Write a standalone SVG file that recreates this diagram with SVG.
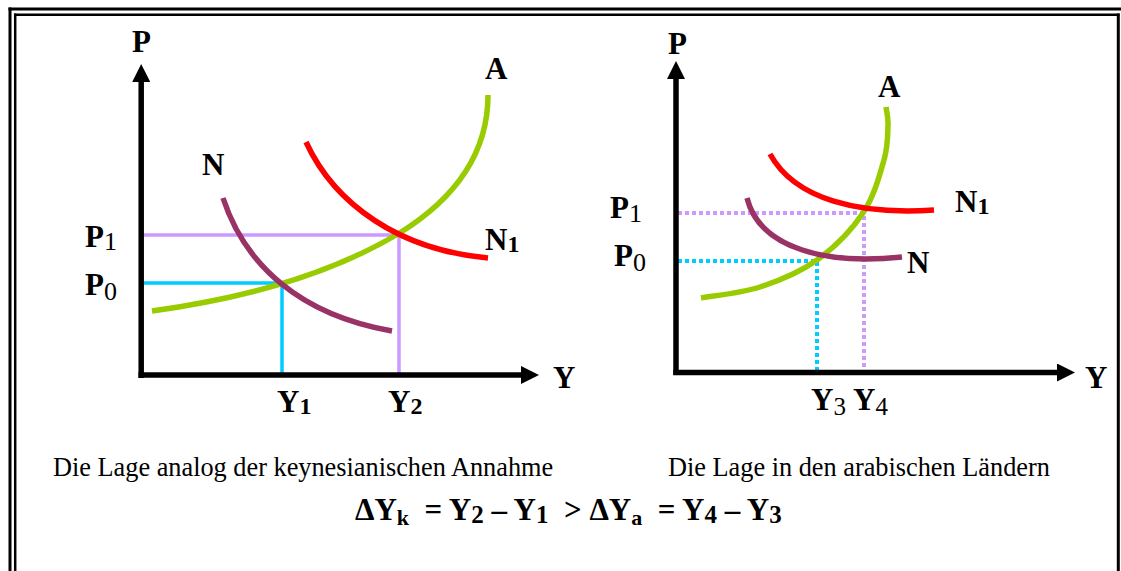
<svg xmlns="http://www.w3.org/2000/svg" width="1121" height="571" viewBox="0 0 1121 571">
<style>
.frame{fill:none;stroke:#000}
.axis{fill:none;stroke:#000;stroke-width:5.5}
.curve{fill:none;stroke-width:5.5}
.green{stroke:#99CC00}
.red{stroke:#FF0000}
.purple{stroke:#993366}
.guide{fill:none;stroke-width:3.5}
.dot{fill:none;stroke-width:4;stroke-dasharray:4 3}
.cyan{stroke:#00CCFF}
.lav{stroke:#CC99FF}
text{font-family:"Liberation Serif","Times New Roman",serif;fill:#000}
.lbl{font-size:31px;font-weight:bold}
.subr{font-size:26px;font-weight:normal}
.subb{font-size:24px;font-weight:bold}
.cap{font-size:26.3px}
.f{font-size:31px;font-weight:bold}
.fs{font-size:22px;font-weight:bold}
.fd{font-size:25px;font-weight:bold}
</style>
<defs>
<marker id="arr" markerUnits="userSpaceOnUse" markerWidth="18" markerHeight="18" viewBox="0 0 18 18" refX="0" refY="9" orient="auto">
<path d="M0,0 L18,9 L0,18 Z" fill="#000"/>
</marker>
</defs>
<g id="frame">
<line class="frame" x1="8.5" y1="9" x2="1121" y2="9" stroke-width="3"/>
<line class="frame" x1="10" y1="7.5" x2="10" y2="571" stroke-width="3"/>
<line class="frame" x1="14" y1="14.8" x2="1119.5" y2="14.8" stroke-width="2.5"/>
<line class="frame" x1="15.2" y1="13.5" x2="15.2" y2="571" stroke-width="2.5"/>
<line class="frame" x1="1118.3" y1="13.5" x2="1118.3" y2="571" stroke-width="3"/>
</g>
<g id="left-chart">
<g id="left-guides">
<polyline class="guide lav" points="141,235 399,235 399,375"/>
<polyline class="guide cyan" points="141,283 282,283 282,375"/>
</g>
<g id="left-curves">
<path id="left-A" class="curve green" d="M152,311 C230,300 320,280 398,234 C460,196 488,150 488,95"/>
<path id="left-N" class="curve purple" d="M223,198 C245,265 300,315 392,331"/>
<path id="left-N1" class="curve red" d="M306,142 C335,205 400,250 488,258"/>
</g>
<g id="left-axes">
<line class="axis" x1="141.2" y1="378" x2="141.2" y2="82" marker-end="url(#arr)"/>
<line class="axis" x1="138.5" y1="375" x2="521" y2="375" marker-end="url(#arr)"/>
</g>
<g id="left-labels">
<text class="lbl" x="132" y="52">P</text>
<text class="lbl" x="553" y="388">Y</text>
<text class="lbl" x="485" y="79">A</text>
<text class="lbl" x="202" y="175">N</text>
<text class="lbl" x="485" y="250">N<tspan class="subb" dy="2">1</tspan></text>
<text class="lbl" x="85" y="247">P<tspan class="subr" dy="3">1</tspan></text>
<text class="lbl" x="85" y="295">P<tspan class="subr" dy="5">0</tspan></text>
<text class="lbl" x="277" y="412">Y<tspan class="subb" dy="2">1</tspan></text>
<text class="lbl" x="388" y="412">Y<tspan class="subb" dy="2">2</tspan></text>
</g>
</g>
<g id="right-chart">
<g id="right-guides">
<polyline class="dot lav" points="678,213 864,213 864,372"/>
<polyline class="dot cyan" points="678,261 817,261 817,372"/>
</g>
<g id="right-curves">
<path id="right-A" class="curve green" d="M701,298 C710.8,296.2 740.7,293.3 760,287 C779.3,280.7 799.8,272.3 817,260 C834.2,247.7 851.8,229.7 863,213 C874.2,196.3 879.8,174.7 884,160 C888.2,145.3 887.7,133.8 888,125 C888.3,116.2 886.3,110 886,107"/>
<path id="right-N1" class="curve red" d="M770,154 C795,200 860,215 934,210"/>
<path id="right-N" class="curve purple" d="M747,198 C760,250 830,265 902,257"/>
</g>
<g id="right-axes">
<line class="axis" x1="676" y1="375" x2="676" y2="79" marker-end="url(#arr)"/>
<line class="axis" x1="673.3" y1="372.5" x2="1057" y2="372.5" marker-end="url(#arr)"/>
</g>
<g id="right-labels">
<text class="lbl" x="668" y="54">P</text>
<text class="lbl" x="1085" y="388">Y</text>
<text class="lbl" x="878" y="97">A</text>
<text class="lbl" x="955" y="212">N<tspan class="subb" dy="2">1</tspan></text>
<text class="lbl" x="907" y="273">N</text>
<text class="lbl" x="610" y="218">P<tspan class="subr" dy="4">1</tspan></text>
<text class="lbl" x="614" y="266">P<tspan class="subr" dy="5">0</tspan></text>
<text class="lbl" x="811" y="410">Y<tspan class="subr" dy="5" style="font-size:25px">3</tspan></text>
<text class="lbl" x="853" y="410">Y<tspan class="subr" dy="5" style="font-size:25px">4</tspan></text>
</g>
</g>
<g id="captions">
<text class="cap" x="53" y="476">Die Lage analog der keynesianischen Annahme</text>
<text class="cap" x="668" y="476">Die Lage in den arabischen Ländern</text>
</g>
<g id="formula">
<text class="f" x="355" y="520" xml:space="preserve">ΔY<tspan class="fs" dy="5">k</tspan><tspan dy="-5">  = Y</tspan><tspan class="fd" dy="3">2</tspan><tspan dy="-3"> – Y</tspan><tspan class="fd" dy="3">1</tspan><tspan dy="-3">  &gt; ΔY</tspan><tspan class="fs" dy="5">a</tspan><tspan dy="-5">  = Y</tspan><tspan class="fd" dy="3">4</tspan><tspan dy="-3"> – Y</tspan><tspan class="fd" dy="3">3</tspan></text>
</g>
</svg>
